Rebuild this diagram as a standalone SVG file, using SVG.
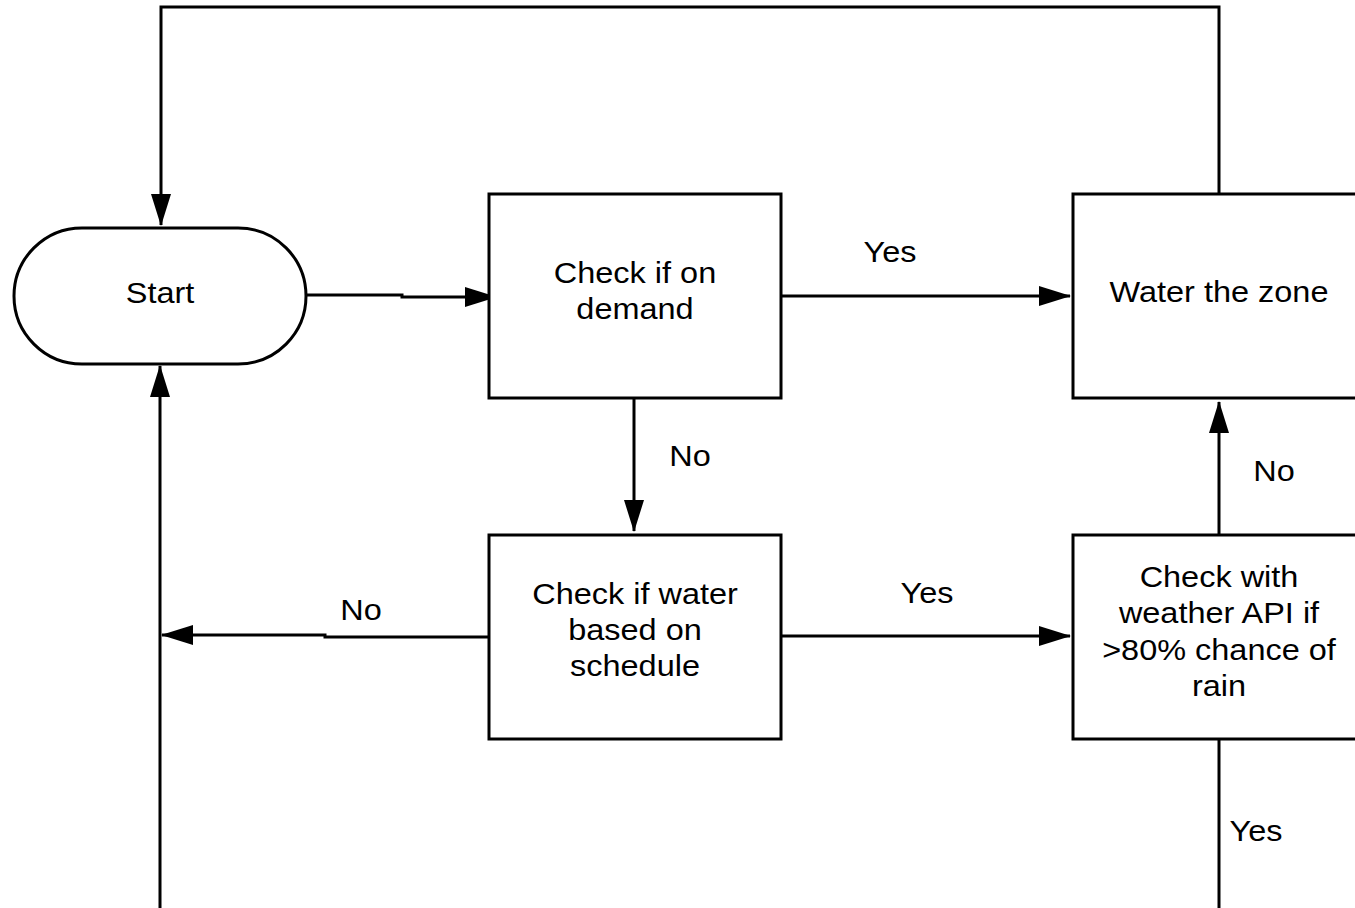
<svg xmlns="http://www.w3.org/2000/svg" width="1355" height="908" viewBox="0 0 1355 908">
  <style>
    .shape { fill: #ffffff; stroke: #000000; stroke-width: 3; }
    .edge { fill: none; stroke: #000000; stroke-width: 3; }
    .t { font-family: "Liberation Sans", Arial, sans-serif; font-size: 29px; fill: #000000; text-anchor: middle; }
  </style>
  <defs>
    <marker id="arrow" markerUnits="userSpaceOnUse" markerWidth="32" markerHeight="20" refX="31" refY="10" orient="auto">
      <path d="M0,0 L32,10 L0,20 Z" fill="#000000"/>
    </marker>
  </defs>
  <rect width="1355" height="908" fill="#ffffff"/>

  <!-- connectors -->
  <g id="connectors">
    <path class="edge" d="M306 295 H402 V297 H496" marker-end="url(#arrow)"/>
    <path class="edge" d="M781 296 H1070" marker-end="url(#arrow)"/>
    <path class="edge" d="M634 398 V531" marker-end="url(#arrow)"/>
    <path class="edge" d="M489 637 H325 V635 H162" marker-end="url(#arrow)"/>
    <path class="edge" d="M160 908 V366" marker-end="url(#arrow)"/>
    <path class="edge" d="M1219 194 V7 H161 V225" marker-end="url(#arrow)"/>
    <path class="edge" d="M781 636 H1070" marker-end="url(#arrow)"/>
    <path class="edge" d="M1219 535 V402" marker-end="url(#arrow)"/>
    <path class="edge" d="M1219 739 V908"/>
    <!-- branch labels -->
    <g transform="translate(890 262) scale(1.12 1)"><text class="t" x="0" y="0">Yes</text></g>
    <g transform="translate(690 466) scale(1.12 1)"><text class="t" x="0" y="0">No</text></g>
    <g transform="translate(361 620) scale(1.12 1)"><text class="t" x="0" y="0">No</text></g>
    <g transform="translate(927 603) scale(1.12 1)"><text class="t" x="0" y="0">Yes</text></g>
    <g transform="translate(1274 481) scale(1.12 1)"><text class="t" x="0" y="0">No</text></g>
    <g transform="translate(1256 841) scale(1.12 1)"><text class="t" x="0" y="0">Yes</text></g>
  </g>

  <!-- start terminal -->
  <g id="start">
    <rect class="shape" x="14" y="228" width="292" height="136" rx="68" ry="68"/>
    <g transform="translate(160 303) scale(1.12 1)"><text class="t" x="0" y="0">Start</text></g>
  </g>

  <!-- on-demand check -->
  <g id="check-demand">
    <rect class="shape" x="489" y="194" width="292" height="204"/>
    <g transform="translate(635 0) scale(1.12 1)">
      <text class="t" x="0" y="283">Check if on</text>
      <text class="t" x="0" y="319">demand</text>
    </g>
  </g>

  <!-- watering action -->
  <g id="water-zone">
    <rect class="shape" x="1073" y="194" width="292" height="204"/>
    <g transform="translate(1219 302) scale(1.12 1)"><text class="t" x="0" y="0">Water the zone</text></g>
  </g>

  <!-- schedule check -->
  <g id="check-schedule">
    <rect class="shape" x="489" y="535" width="292" height="204"/>
    <g transform="translate(635 0) scale(1.12 1)">
      <text class="t" x="0" y="604">Check if water</text>
      <text class="t" x="0" y="640">based on</text>
      <text class="t" x="0" y="676">schedule</text>
    </g>
  </g>

  <!-- weather forecast check -->
  <g id="check-weather">
    <rect class="shape" x="1073" y="535" width="292" height="204"/>
    <g transform="translate(1219 0) scale(1.12 1)">
      <text class="t" x="0" y="587">Check with</text>
      <text class="t" x="0" y="623">weather API if</text>
      <text class="t" x="0" y="660">&gt;80% chance of</text>
      <text class="t" x="0" y="696">rain</text>
    </g>
  </g>
</svg>
